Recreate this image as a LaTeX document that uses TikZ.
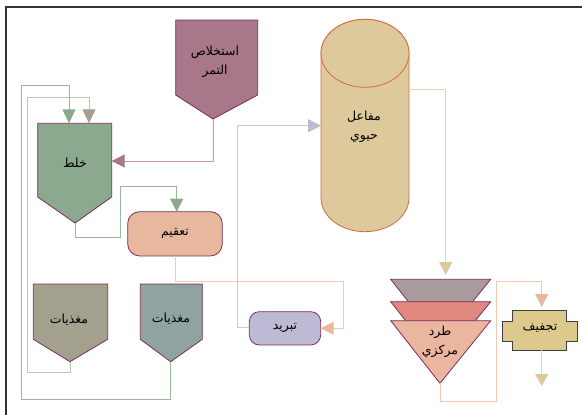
\documentclass[tikz,border=0pt]{standalone}
\usepackage{fontspec}
\newfontfamily\arabicfont[Script=Arabic]{DejaVu Sans}
\TeXXeTstate=1
\usepackage{tikz}
\usetikzlibrary{arrows.meta}

\definecolor{maroon}{HTML}{7A2E57}
\definecolor{mauve}{HTML}{A8788A}
\definecolor{mauveline}{HTML}{C898A8}
\definecolor{sage}{HTML}{8BA98E}
\definecolor{sageline}{HTML}{98B89C}
\definecolor{olive}{HTML}{A3A08E}
\definecolor{oliveline}{HTML}{C2C2B2}
\definecolor{teal}{HTML}{90A3A0}
\definecolor{peach}{HTML}{E8B89E}
\definecolor{peachline}{HTML}{F2CAB4}
\definecolor{lavender}{HTML}{BDBAD5}
\definecolor{lavline}{HTML}{CCC8DE}
\definecolor{tan}{HTML}{DDC99B}
\definecolor{tanline}{HTML}{E2D6B4}
\definecolor{rust}{HTML}{D26A45}
\definecolor{cone1}{HTML}{A99B9C}
\definecolor{cone2}{HTML}{E0877E}
\definecolor{cone3}{HTML}{EAB6A0}
\definecolor{mustard}{HTML}{DDC98C}

\tikzset{
  box/.style={draw=maroon, line width=0.8pt},
  arabic/.style={font=\arabicfont\fontsize{12.5}{18.5}\selectfont},
  caption/.style={arabic, align=center, inner sep=0pt},
  flow/.style={line width=1pt},
}

\begin{document}
\begin{tikzpicture}[x=1pt, y=-1pt]
    \useasboundingbox (0,0) rectangle (582,415);
    % Frame
    \draw[line width=1.3pt, black!80] (6,415) -- (6,7) -- (582,7);

    % Date extraction
    \draw[box, fill=mauve] (175.7,20) -- (257.7,20) -- (257.7,95) -- (213,119) -- (175.7,95) -- cycle;
    \node[caption] (ext) at (215,62) {\beginR استخلاص\endR\\\beginR التمر\endR};
    \coordinate (extS) at (213,119);

    % Mixing
    \draw[box, fill=sage] (37.7,123.3) -- (111.7,123.3) -- (111.7,197) -- (75,223) -- (37.7,197) -- cycle;
    \node[caption] (mix) at (75,163) {\beginR خلط\endR};
    \coordinate (mixE) at (111.7,161);
    \coordinate (mixS) at (75,223);
    \coordinate (mixN1) at (69,123.3);
    \coordinate (mixN2) at (89,123.3);

    % Nutrients
    \draw[box, fill=olive] (33.3,284) -- (107.7,284) -- (107.7,339.3) -- (70,361.7) -- (33.3,339.3) -- cycle;
    \node[caption] (nutA) at (69,320) {\beginR مغذيات\endR};
    \coordinate (nutAS) at (70,361.7);
    \draw[box, fill=teal] (140.3,284) -- (202.3,284) -- (202.3,339.3) -- (170.7,361.7) -- (140.3,339.3) -- cycle;
    \node[caption] (nutB) at (171,319) {\beginR مغذيات\endR};
    \coordinate (nutBS) at (170.7,361.7);

    % Sterilisation
    \node[box, fill=peach, rounded corners=12pt, minimum width=94.6pt, minimum height=44.3pt, arabic]
        (ster) at (175,233.8) {\beginR تعقيم\endR};
    \coordinate (sterS) at (175.7,256);
    \coordinate (sterN) at (176.7,211.7);

    % Cooling
    \node[box, fill=lavender, rounded corners=10pt, minimum width=71.4pt, minimum height=33.3pt, arabic]
        (cool) at (285,328.3) {\beginR تبريد\endR};
    \coordinate (coolE) at (320.7,328.3);
    \coordinate (coolW) at (249.3,327.3);

    % Bioreactor
    \draw[draw=rust, line width=0.8pt, fill=tan] (321,53.3) -- (321,197.7)
        arc[start angle=180, end angle=360, x radius=44pt, y radius=34pt] -- (409,53.3)
        arc[start angle=0, end angle=180, x radius=44pt, y radius=34pt] -- cycle;
    \draw[draw=rust, line width=0.8pt, fill=tan] (365,53.3) ellipse [x radius=44pt, y radius=34pt];
    \node[caption] (bio) at (364,127) {\beginR مفاعل\endR\\\beginR حيوي\endR};
    \coordinate (bioW) at (321,125.7);
    \coordinate (bioE) at (409,89);

    % Centrifuge
    \foreach \t/\c in {279.3/cone1, 301.7/cone2, 320.7/cone3}
        \draw[box, fill=\c] (390.7,\t) -- (490.7,\t) -- (440,\t+62.6) -- cycle;
    \node[caption] (cent) at (440,342) {\beginR طرد\endR\\\beginR مركزي\endR};
    \coordinate (centN) at (445.7,275);
    \coordinate (centS) at (440,383.3);

    % Drying
    \draw[draw=black!75, line width=0.8pt, fill=mustard] (512.7,310.7) -- (566.7,310.7) -- (566.7,321.7)
        -- (577.3,321.7) -- (577.3,341.7) -- (566.7,341.7) -- (566.7,350) -- (512.7,350) -- (512.7,341.7)
        -- (502.3,341.7) -- (502.3,321.7) -- (512.7,321.7) -- cycle;
    \node[caption] (dry) at (540,328) {\beginR تجفيف\endR};
    \coordinate (dryN) at (541.7,307);
    \coordinate (dryS) at (541.7,350);
    \coordinate (out) at (541.7,386);

    % Connectors
    \draw[flow, mauveline, -{Triangle[width=13pt, length=13pt, color=mauve]}] (extS) |- (mixE);
    \draw[flow, sageline, -{Triangle[width=13pt, length=14pt, color=sage]}]
        (nutBS) -- (170.7,399) -- (21.7,399) -- (21.7,85.7) -| (mixN1);
    \draw[flow, oliveline, -{Triangle[width=13pt, length=14pt, color=olive]}]
        (nutAS) -- (70,372.3) -- (27.3,372.3) -- (27.3,97.3) -| (mixN2);
    \draw[flow, sageline, -{Triangle[width=13pt, length=13pt, color=sage]}]
        (mixS) -- (75,237.3) -- (120.7,237.3) -- (120.7,186.3) -| (sterN);
    \draw[flow, peachline, -{Triangle[width=13pt, length=13pt, color=peach]}]
        (sterS) -- (175.7,281) -- (343.3,281) |- (coolE);
    \draw[flow, lavline, -{Triangle[width=13pt, length=13pt, color=lavender]}]
        (coolW) -- (237.3,327.3) |- (bioW);
    \draw[flow, tanline, -{Triangle[width=13pt, length=13pt, color=tan]}] (bioE) -| (centN);
    \draw[flow, peachline, -{Triangle[width=13pt, length=13pt, color=peach]}]
        (centS) -- (440,401.7) -- (496.7,401.7) -- (496.7,281) -| (dryN);
    \draw[flow, tanline, -{Triangle[width=13pt, length=12pt, color=tan]}] (dryS) -- (out);
\end{tikzpicture}
\end{document}
